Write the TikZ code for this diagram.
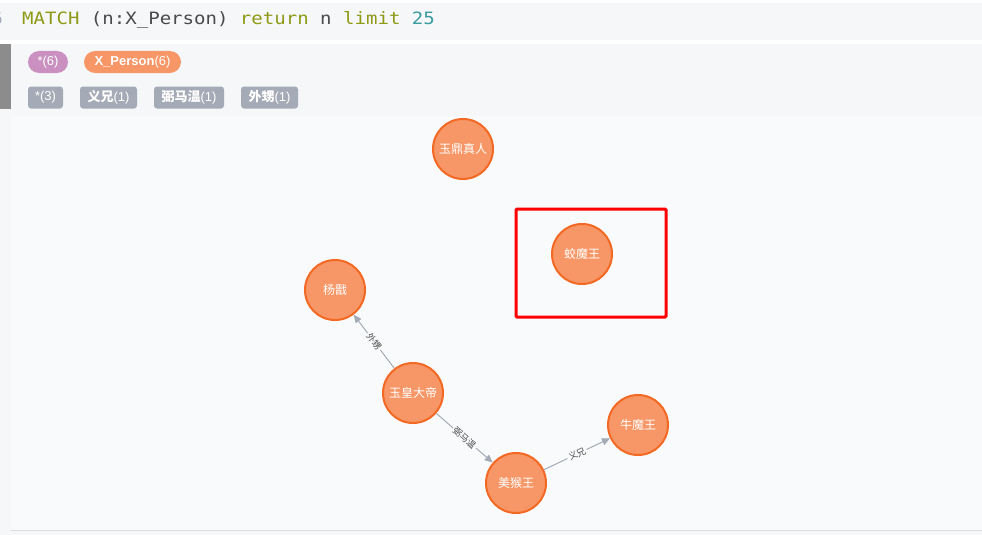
\documentclass[tikz,border=0pt]{standalone}
\usepackage{fontspec}
\setmainfont{Liberation Sans}
\newfontfamily\cjk{Noto Sans CJK SC}
\newfontfamily\querymono[FakeStretch=1.12]{DejaVu Sans Mono}
\usetikzlibrary{arrows.meta}
\definecolor{nodefill}{HTML}{F79767}
\definecolor{nodeline}{HTML}{F36924}
\definecolor{relgray}{HTML}{A5ABB6}
\definecolor{starpink}{HTML}{C990C0}
\definecolor{panelbg}{HTML}{F5F7F9}
\definecolor{graphbg}{HTML}{F9FAFB}
\definecolor{kwgreen}{HTML}{8E9A16}
\definecolor{numteal}{HTML}{3A9BA0}
\definecolor{plaintext}{HTML}{4A4A4A}
\begin{document}
\begin{tikzpicture}[x=1pt,y=-1pt,
    person/.style={circle,fill=nodefill,draw=nodeline,line width=2pt,
      minimum size=60pt,inner sep=0pt,text=white,font=\cjk\fontsize{12}{12}\selectfont},
    rel/.style={draw=relgray,line width=1pt,-{Triangle[length=8pt,width=7pt]}},
    rellabel/.style={sloped,fill=graphbg,inner sep=1.5pt,text=plaintext,
      font=\cjk\fontsize{9}{9}\selectfont},
    pill/.style={fill=#1,rounded corners=11pt,minimum height=22pt,inner sep=0pt,
      text=white,font=\fontsize{13}{13}\selectfont},
    tag/.style={fill=relgray,rounded corners=3pt,minimum height=22pt,inner sep=0pt,
      text=white,font=\fontsize{13}{13}\selectfont}]
\useasboundingbox (0,0) rectangle (982,535);
% backgrounds
\fill[white] (0,0) rectangle (982,535);
\fill[panelbg] (0,3) rectangle (982,40);
\fill[panelbg] (0,44) rectangle (982,535);
\fill[graphbg] (11,116) rectangle (982,530);
\draw[relgray!40,line width=1pt] (11,530.5) -- (982,530.5);
\fill[gray!90] (0,44) rectangle (11,109);
% query line
\node[anchor=base east,text=relgray,font=\querymono\fontsize{17}{17}\selectfont,inner sep=0pt] (lineno) at (3,25) {6};
\node[anchor=base west,inner sep=0pt,font=\querymono\fontsize{17}{17}\selectfont] (query) at (22,25)
  {\textcolor{kwgreen}{MATCH} \textcolor{plaintext}{(n:X\_Person)} \textcolor{kwgreen}{return} \textcolor{plaintext}{n} \textcolor{kwgreen}{limit} \textcolor{numteal}{25}};
% legend
\node[pill=starpink,minimum width=40pt] (allnodes) at (48,62) {*(6)};
\node[pill=nodefill,minimum width=97pt] (xperson) at (132.5,62) {\textbf{X\_Person}(6)};
\node[tag,minimum width=35pt] (allrels) at (45.5,97.5) {*(3)};
\node[tag,minimum width=57pt] (tagyixiong) at (108.5,97.5) {\textbf{\cjk 义兄}(1)};
\node[tag,minimum width=70pt] (tagbimawen) at (189,97.5) {\textbf{\cjk 弼马温}(1)};
\node[tag,minimum width=57pt] (tagwaisheng) at (269.5,97.5) {\textbf{\cjk 外甥}(1)};
% graph
\node[person] (yuding) at (463,149) {玉鼎真人};
\node[person] (jiaomo) at (582,254) {蛟魔王};
\node[person] (yangjian) at (335,290) {杨戬};
\node[person] (yuhuang) at (413,393) {玉皇大帝};
\node[person] (meihou) at (516,483) {美猴王};
\node[person] (niumo) at (638,425) {牛魔王};
\draw[rel] (yuhuang) -- node[rellabel] {外甥} (yangjian);
\draw[rel] (yuhuang) -- node[rellabel] {弼马温} (meihou);
\draw[rel] (meihou) -- node[rellabel] {义兄} (niumo);
% highlight
\draw[red,line width=3pt,rounded corners=1pt] (516,209) rectangle (666,317);
\end{tikzpicture}
\end{document}
